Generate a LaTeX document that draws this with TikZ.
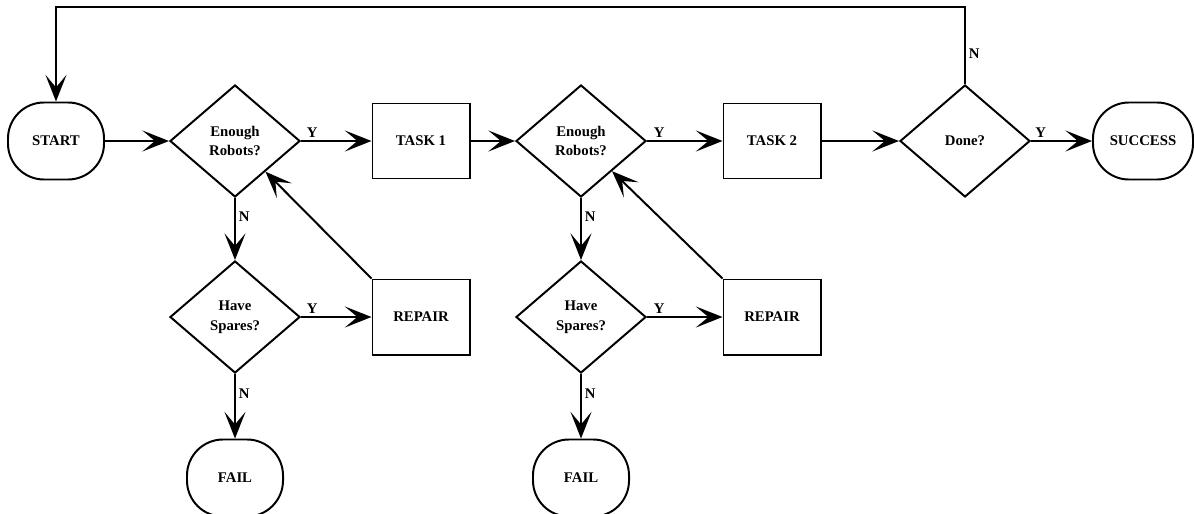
\documentclass[tikz,border=0pt]{standalone}
\usepackage{fontspec}
\setmainfont{Liberation Serif}
\usetikzlibrary{arrows.meta, shapes.geometric}

\begin{document}
\begin{tikzpicture}[
    x=0.025cm, y=-0.025cm,
    every node/.style={font=\bfseries\fontsize{10.5}{14}\selectfont},
    term/.style={rectangle, rounded corners=0.9cm, draw, line width=1.4pt, minimum width=2.4cm, minimum height=1.925cm, align=center},
    decision/.style={diamond, draw, line width=1.4pt, minimum width=3.25cm, minimum height=2.8cm, inner sep=0pt, align=center},
    proc/.style={rectangle, draw, line width=1.4pt, minimum width=2.425cm, minimum height=1.875cm, align=center},
    arrow/.style={-{Stealth[length=19pt, width=15pt, inset=9pt]}, line width=1.4pt},
    lbl/.style={inner sep=2pt}
]
\useasboundingbox (0,0) rectangle (1194,513);

% --- main row ---
\node[term] (start) at (56,141) {START};
\node[decision] (robots1) at (235,141) {Enough\\Robots?};
\node[proc] (task1) at (421,141) {TASK 1};
\node[decision] (robots2) at (581,141) {Enough\\Robots?};
\node[proc] (task2) at (772,141) {TASK 2};
\node[decision] (done) at (965,141) {Done?};
\node[term, minimum width=2.5cm] (success) at (1143,141) {SUCCESS};

% --- repair branches ---
\node[decision] (spares1) at (235,317) {Have\\Spares?};
\node[proc] (repair1) at (421,317) {REPAIR};
\node[term] (fail1) at (235,478) {FAIL};
\node[decision] (spares2) at (581,317) {Have\\Spares?};
\node[proc] (repair2) at (772,317) {REPAIR};
\node[term] (fail2) at (581,478) {FAIL};

\coordinate (loop) at (56,7);

% --- connectors ---
\draw[arrow] (start) -- (robots1);
\draw[arrow] (robots1) -- node[lbl, pos=0.16, above] {Y} (task1);
\draw[arrow] (robots1) -- node[lbl, pos=0.3, right] {N} (spares1);
\draw[arrow] (spares1) -- node[lbl, pos=0.16, above] {Y} (repair1);
\draw[arrow] (spares1) -- node[lbl, pos=0.3, right] {N} (fail1);
\draw[arrow] (repair1.north west) -- (robots1);
\draw[arrow] (task1) -- (robots2);
\draw[arrow] (robots2) -- node[lbl, pos=0.16, above] {Y} (task2);
\draw[arrow] (robots2) -- node[lbl, pos=0.3, right] {N} (spares2);
\draw[arrow] (spares2) -- node[lbl, pos=0.16, above] {Y} (repair2);
\draw[arrow] (spares2) -- node[lbl, pos=0.3, right] {N} (fail2);
\draw[arrow] (repair2.north west) -- (robots2);
\draw[arrow] (task2) -- (done);
\draw[arrow] (done) -- node[lbl, pos=0.16, above] {Y} (success);
\draw[arrow] (done.north) |- node[lbl, pos=0.2, right] {N} (loop) -- (start.north);
\end{tikzpicture}
\end{document}
